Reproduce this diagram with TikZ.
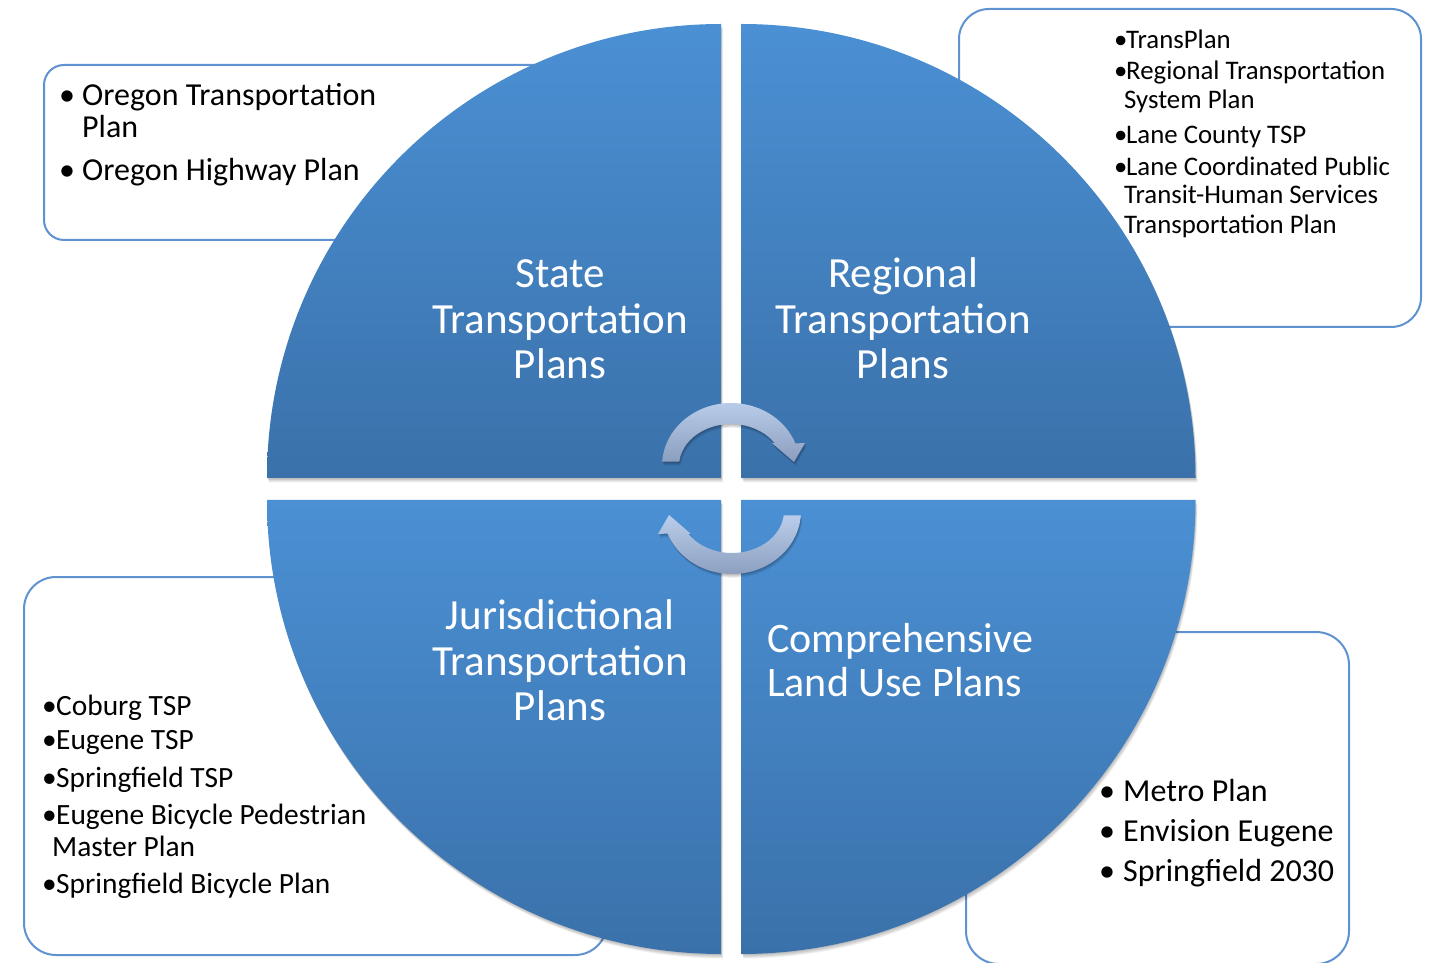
\documentclass[tikz,border=0pt]{standalone}
\usepackage{fontspec}
\setmainfont{Carlito}
\definecolor{qtop}{RGB}{75,144,212}
\definecolor{qbot}{RGB}{58,113,170}
\definecolor{boxc}{RGB}{94,146,208}
\definecolor{arrtop}{RGB}{186,205,234}
\definecolor{arrbot}{RGB}{139,158,190}
\newcommand\pathTL{(721,484) -- (267,484) arc[start angle=180,end angle=90,radius=454pt] -- cycle}
\newcommand\pathTR{(741.5,484) -- (741.5,938) arc[start angle=90,end angle=0,radius=454pt] -- cycle}
\newcommand\pathBL{(721,462) -- (267,462) arc[start angle=180,end angle=270,radius=454pt] -- cycle}
\newcommand\pathBR{(741.5,462) -- (1195.5,462) arc[start angle=0,end angle=-90,radius=454pt] -- cycle}
\newcommand\pathArrTop{(176:69pt and 63pt) arc[start angle=176,end angle=21,x radius=69pt,y radius=63pt] -- (74,23) -- (63,4) -- (41,23) -- (33.2:52pt and 42pt) arc[start angle=33.2,end angle=174,x radius=52pt,y radius=42pt] -- cycle}
\newcommand\pathArrBot{(356:69pt and 63pt) arc[start angle=356,end angle=201,x radius=69pt,y radius=63pt] -- (-74,-23) -- (-63,-4) -- (-41,-23) -- (213.2:52pt and 42pt) arc[start angle=213.2,end angle=354,x radius=52pt,y radius=42pt] -- cycle}
\tikzset{
  quad/.style={top color=qtop, bottom color=qbot, draw=none},
  listbox/.style={draw=boxc, line width=2pt, fill=white},
  qlabel/.style={text=white, font=\fontsize{43}{45}\selectfont, inner sep=0pt},
  itemA/.style={anchor=base west, inner sep=0pt, font=\fontsize{32}{32}\selectfont},
  itemB/.style={anchor=base west, inner sep=0pt, font=\fontsize{26.8}{29}\selectfont},
  itemC/.style={anchor=base west, inner sep=0pt, font=\fontsize{29.4}{33}\selectfont},
  cyclearrow/.style={top color=arrtop, bottom color=arrbot, draw=none},
  softshadow/.style={fill=black, opacity=0.055, draw=none}
}
\begin{document}
\begin{tikzpicture}[x=1pt,y=1pt]
\useasboundingbox (0,0) rectangle (1431,962);
\fill[white] (0,0) rectangle (1431,962);
% list boxes (behind the circle)
\draw[listbox, rounded corners=20pt] (44,722) rectangle (600,897);
\draw[listbox, rounded corners=30pt] (959,635) rectangle (1421,953);
\draw[listbox, rounded corners=32pt] (24,7) rectangle (607,385);
\draw[listbox, rounded corners=33pt] (966,-2) rectangle (1349,330);
% soft shadows of the quadrants
\foreach \s in {1,2,3,4,5}{
  \begin{scope}[xshift=0.4*\s pt, yshift=-0.9*\s pt]
    \fill[softshadow] \pathTL;
    \fill[softshadow] \pathTR;
    \fill[softshadow] \pathBL;
    \fill[softshadow] \pathBR;
  \end{scope}
}
% quadrants
\shade[quad] \pathTL;
\shade[quad] \pathTR;
\shade[quad] \pathBL;
\shade[quad] \pathBR;
% quadrant labels
\node[qlabel, anchor=base] (st1) at (560,674) {State};
\node[qlabel, anchor=base] (st2) at (560,628.5) {Transportation};
\node[qlabel, anchor=base] (st3) at (560,583) {Plans};
\node[qlabel, anchor=base] (rg1) at (903,674) {Regional};
\node[qlabel, anchor=base] (rg2) at (903,628.5) {Transportation};
\node[qlabel, anchor=base] (rg3) at (903,583) {Plans};
\node[qlabel, anchor=base] (ju1) at (560,332.5) {Jurisdictional};
\node[qlabel, anchor=base] (ju2) at (560,287) {Transportation};
\node[qlabel, anchor=base] (ju3) at (560,241.5) {Plans};
\node[qlabel, anchor=base west, font=\fontsize{42}{45}\selectfont] (cl1) at (767,309.5) {Comprehensive};
\node[qlabel, anchor=base west, font=\fontsize{42}{45}\selectfont] (cl2) at (767,265.5) {Land Use Plans};
% cycle arrows with shadows
\foreach \s in {1,2,3}{
  \begin{scope}[shift={(731+0.5*\s,496-1.2*\s)}]
    \fill[softshadow, opacity=0.09] \pathArrTop;
  \end{scope}
  \begin{scope}[shift={(732+0.5*\s,451-1.2*\s)}]
    \fill[softshadow, opacity=0.09] \pathArrBot;
  \end{scope}
}
\begin{scope}[shift={(731,496)}]
  \shade[cyclearrow] \pathArrTop;
\end{scope}
\begin{scope}[shift={(732,451)}]
  \shade[cyclearrow] \pathArrBot;
\end{scope}
% state list
\node[itemA] (sb1) at (59,856) {•};
\node[itemA] (si1) at (82,856) {Oregon Transportation};
\node[itemA] (si1b) at (82,824) {Plan};
\node[itemA] (sb2) at (59,781) {•};
\node[itemA] (si2) at (82,781) {Oregon Highway Plan};
% regional list
\node[itemB] (rb1) at (1114,913.7) {•};
\node[itemB] (ri1) at (1126,913.7) {TransPlan};
\node[itemB] (rb2) at (1114,882) {•};
\node[itemB] (ri2) at (1126,882) {Regional Transportation};
\node[itemB] (ri2b) at (1124,853.7) {System Plan};
\node[itemB] (rb3) at (1114,818) {•};
\node[itemB] (ri3) at (1126,818) {Lane County TSP};
\node[itemB] (rb4) at (1114,786.3) {•};
\node[itemB] (ri4) at (1126,786.3) {Lane Coordinated Public};
\node[itemB] (ri4b) at (1124,758) {Transit-Human Services};
\node[itemB] (ri4c) at (1124,728.7) {Transportation Plan};
% jurisdictional list
\node[itemC] (jb1) at (42,247) {•};
\node[itemC] (ji1) at (56,247) {Coburg TSP};
\node[itemC] (jb2) at (42,213) {•};
\node[itemC] (ji2) at (56,213) {Eugene TSP};
\node[itemC] (jb3) at (42,175) {•};
\node[itemC] (ji3) at (56,175) {Springfield TSP};
\node[itemC] (jb4) at (42,138) {•};
\node[itemC] (ji4) at (56,138) {Eugene Bicycle Pedestrian};
\node[itemC] (ji4b) at (52,106) {Master Plan};
\node[itemC] (jb5) at (42,69) {•};
\node[itemC] (ji5) at (56,69) {Springfield Bicycle Plan};
% land use list
\node[itemA] (lb1) at (1099,160.3) {•};
\node[itemA] (li1) at (1123,160.3) {Metro Plan};
\node[itemA] (lb2) at (1099,120.3) {•};
\node[itemA] (li2) at (1123,120.3) {Envision Eugene};
\node[itemA] (lb3) at (1099,80.3) {•};
\node[itemA] (li3) at (1123,80.3) {Springfield 2030};
\end{tikzpicture}
\end{document}
